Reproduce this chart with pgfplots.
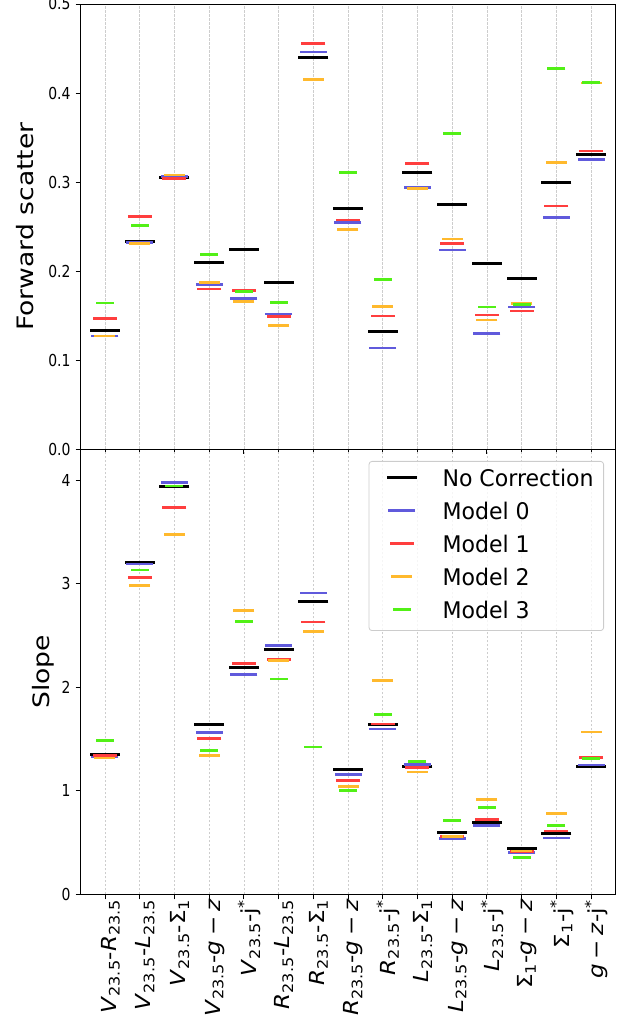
\documentclass[border=0pt]{standalone}
\usepackage{fontspec}
\setmainfont{DejaVu Sans}
\usepackage{graphicx}
\usepackage{pgfplots}
\usepackage{pgfplotstable}
\pgfplotsset{compat=1.18}
\definecolor{cM0}{RGB}{96,90,220}
\definecolor{cM1}{RGB}{255,62,62}
\definecolor{cM2}{RGB}{255,185,45}
\definecolor{cM3}{RGB}{82,240,22}
\definecolor{gridc}{RGB}{205,205,205}
\definecolor{legc}{RGB}{204,204,204}

\newcommand{\vs}[1]{\scalebox{1}[0.85]{#1}}
\newcommand{\xl}[1]{\scalebox{1}[0.9]{\fontsize{23}{27}\selectfont #1}}
\newcommand{\yl}[1]{\scalebox{0.845}[1]{\fontsize{16.5}{19}\selectfont #1}}
\newcommand{\lgt}[1]{\scalebox{0.963}[1]{\fontsize{22.9}{26}\selectfont #1}}
\newcommand{\sbs}[1]{\textsubscript{#1}}
\newcommand{\gz}{\textit{g}\hspace{0.2em}−\hspace{0.2em}\textit{z}}

\pgfplotstableread{
x nc m0 m1 m2 m3
0 0.1337 0.127 0.1464 0.127 0.164
1 0.2333 0.2318 0.261 0.2307 0.251
2 0.305 0.306 0.3037 0.3079 nan
3 0.2097 0.1846 0.1798 0.1873 0.2184
4 0.2243 0.1689 0.1783 0.1659 0.1768
5 0.1873 0.1517 0.149 0.139 0.1644
6 0.440 0.446 0.4558 0.4154 nan
7 0.2704 0.2547 0.2573 0.2468 0.3105
8 0.1318 0.1135 0.1494 0.1603 0.1906
9 0.3105 0.2936 0.3206 0.2925 nan
10 0.2742 0.2236 0.2311 0.236 0.3543
11 0.2082 0.1296 0.1506 0.1449 0.1596
12 0.1918 0.1596 0.1551 0.1633 0.1622
13 0.2989 0.2603 0.273 0.3217 0.4273
14 0.3311 0.3251 0.3348 0.4112 0.4116
}\fsdata

\pgfplotstableread{
x nc m0 m1 m2 m3
0 1.349 1.327 1.343 1.317 1.488
1 3.208 3.192 3.06 2.985 3.134
2 3.939 3.981 3.739 3.478 3.945
3 1.639 1.565 1.504 1.343 1.391
4 2.193 2.122 2.232 2.744 2.638
5 2.370 2.403 2.267 2.258 2.080
6 2.831 2.911 2.631 2.541 1.424
7 1.208 1.159 1.101 1.043 1.002
8 1.643 1.597 1.646 2.068 1.739
9 1.237 1.256 1.227 1.182 1.282
10 0.593 0.538 0.560 0.557 0.715
11 0.696 0.663 0.725 0.918 0.837
12 0.444 0.406 0.415 0.419 0.357
13 0.583 0.544 0.612 0.783 0.667
14 1.234 1.250 1.324 1.568 1.314
}\slopedata

\pgfplotsset{
  panel/.style={
    scale only axis, width=534.6pt, height=445pt,
    xmin=-0.7, xmax=14.7,
    xtick={0,...,14},
    xmajorgrids,
    grid style={gridc, dash pattern=on 2.5pt off 1.5pt, line width=0.6pt},
    tick align=outside, tick pos=left,
    major tick length=5pt,
    tick style={black, line width=0.8pt},
    axis line style={black, line width=0.8pt},
    yticklabel style={anchor=east, inner sep=0pt, xshift=-5pt},
    xticklabel style={rotate=90, anchor=east, inner sep=0pt, yshift=-5.5pt},
    clip=false,
  },
  snc/.style={only marks, mark=-, mark size=15pt, line width=3pt, black},
  sm0/.style={only marks, mark=-, mark size=13.5pt, line width=2.5pt, cM0},
  sm1/.style={only marks, mark=-, mark size=12pt, line width=2.5pt, cM1},
  sm2/.style={only marks, mark=-, mark size=10.5pt, line width=2.5pt, cM2},
  sm3/.style={only marks, mark=-, mark size=9pt, line width=2.5pt, cM3},
}

\begin{document}
\begin{tikzpicture}
\path[use as bounding box] (-80.7pt,-126.7pt) rectangle (547.3pt,894.3pt);

% top panel
\begin{axis}[panel, at={(0pt,445.3pt)}, anchor=south west,
  ymin=0, ymax=0.5,
  ytick={0,0.1,0.2,0.3,0.4,0.5},
  yticklabels={\yl{0.0},\yl{0.1},\yl{0.2},\yl{0.3},\yl{0.4},\yl{0.5}},
  xticklabels={},
  ylabel={\vs{\fontsize{26.6}{30}\selectfont Forward scatter}},
  ylabel style={at={([xshift=-47.4pt]axis description cs:0,0.5)}, anchor=base},
]
\addplot[snc] table[x=x, y=nc] {\fsdata};
\addplot[sm0] table[x=x, y=m0] {\fsdata};
\addplot[sm1] table[x=x, y=m1] {\fsdata};
\addplot[sm2] table[x=x, y=m2] {\fsdata};
\addplot[sm3] table[x=x, y=m3] {\fsdata};
\end{axis}

% bottom panel
\begin{axis}[panel, at={(0pt,0pt)}, anchor=south west,
  ymin=0, ymax=4.30,
  ytick={0,1,2,3,4},
  yticklabels={\yl{0},\yl{1},\yl{2},\yl{3},\yl{4}},
  xticklabels={
    \xl{\textit{V}\sbs{23.5}-\textit{R}\sbs{23.5}},
    \xl{\textit{V}\sbs{23.5}-\textit{L}\sbs{23.5}},
    \xl{\textit{V}\sbs{23.5}-Σ\sbs{1}},
    \xl{\textit{V}\sbs{23.5}-\gz},
    \xl{\textit{V}\sbs{23.5}-j\textsuperscript{*}},
    \xl{\textit{R}\sbs{23.5}-\textit{L}\sbs{23.5}},
    \xl{\textit{R}\sbs{23.5}-Σ\sbs{1}},
    \xl{\textit{R}\sbs{23.5}-\gz},
    \xl{\textit{R}\sbs{23.5}-j\textsuperscript{*}},
    \xl{\textit{L}\sbs{23.5}-Σ\sbs{1}},
    \xl{\textit{L}\sbs{23.5}-\gz},
    \xl{\textit{L}\sbs{23.5}-j\textsuperscript{*}},
    \xl{Σ\sbs{1}-\gz},
    \xl{Σ\sbs{1}-j\textsuperscript{*}},
    \xl{\gz-j\textsuperscript{*}}
  },
  ylabel={\vs{\fontsize{26.6}{30}\selectfont Slope}},
  ylabel style={at={([xshift=-31.4pt]axis description cs:0,0.5)}, anchor=base},
  legend style={at={(1,1)}, anchor=north east, xshift=-11.3pt, yshift=-11.7pt,
    draw=legc, line width=0.8pt, rounded corners=3pt, fill=white, fill opacity=0.8,
    text opacity=1, inner xsep=10pt, inner ysep=7.6pt, row sep=11pt, column sep=26pt,
    nodes={inner sep=0pt, text height=17pt, text depth=5pt, anchor=west}},
  legend cell align=left,
  legend image code/.code={\path (0pt,0pt); \draw[mark repeat=2,mark phase=2,#1] plot coordinates {(6pt,2.35pt) (21pt,2.35pt) (36pt,2.35pt)};},
]
\addplot[snc] table[x=x, y=nc] {\slopedata};
\addplot[sm0] table[x=x, y=m0] {\slopedata};
\addplot[sm1] table[x=x, y=m1] {\slopedata};
\addplot[sm2] table[x=x, y=m2] {\slopedata};
\addplot[sm3] table[x=x, y=m3] {\slopedata};
\legend{\lgt{No Correction},\lgt{Model 0},\lgt{Model 1},\lgt{Model 2},\lgt{Model 3}}
\end{axis}
\end{tikzpicture}
\end{document}
